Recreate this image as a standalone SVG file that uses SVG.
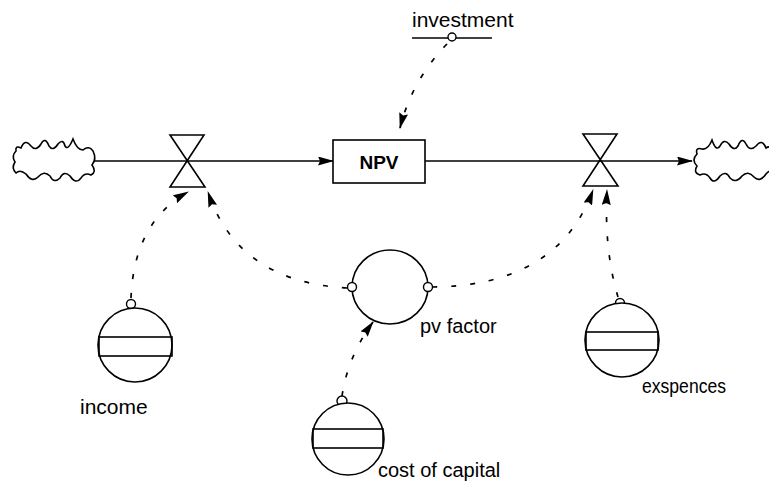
<svg xmlns="http://www.w3.org/2000/svg" width="769" height="488" viewBox="0 0 769 488">
<defs>
<marker id="ah" viewBox="0 0 16 9" refX="15" refY="4.5" markerWidth="16" markerHeight="9" markerUnits="userSpaceOnUse" orient="auto">
<path d="M0,0 L16,4.5 L0,9 L2,4.5 Z" fill="#000"/>
</marker>
<style>
.ln{fill:none;stroke:#000;stroke-width:1.6}
.dash{fill:none;stroke:#000;stroke-width:1.7;stroke-dasharray:5 14}
.shape{fill:#fff;stroke:#000;stroke-width:1.6}
.port{fill:#fff;stroke:#000;stroke-width:1.4}
.lbl{font-family:"Liberation Sans",Arial,sans-serif;font-size:20px;fill:#000}
</style>
</defs>
<rect width="769" height="488" fill="#fff"/>
<g id="connectors">
<line class="ln" x1="94" y1="161" x2="333" y2="161" marker-end="url(#ah)"/>
<line class="ln" x1="425" y1="161" x2="600" y2="161"/>
<line class="ln" x1="600" y1="161" x2="692" y2="161" marker-end="url(#ah)"/>
<path class="dash" d="M447,44 Q412,80 400,128" marker-end="url(#ah)"/>
<path class="dash" d="M131,298 Q134,222 188,192" marker-end="url(#ah)"/>
<path class="dash" d="M347,288 Q238,282 208,192" marker-end="url(#ah)"/>
<path class="dash" d="M432,287 Q558,286 593,190" marker-end="url(#ah)"/>
<path class="dash" d="M618,297 Q604,250 607,190" marker-end="url(#ah)"/>
<path class="dash" d="M342,396 Q348,356 373,322" marker-end="url(#ah)"/>
</g>
<g id="source-cloud">
<path class="ln" d="M16,151 Q15,145 21,148 Q25,138 31,146 Q36,152 41,144 Q45,136 49,146 Q53,152 58,144 Q63,138 65,146 Q68,151 73,139 Q77,150 83,150 Q89,145 93,151 Q97,159 92,165 Q97,172 91,175 Q85,172 81,178 Q76,185 70,176 Q64,170 60,178 Q54,184 50,176 Q44,170 38,177 Q32,183 26,174 Q20,169 16,173 Q11,168 15,162 Q11,156 16,151 Z"/>
</g>
<g id="sink-cloud">
<path class="ln" d="M775,150 Q770,145 766,148 Q762,138 756,146 Q750,152 746,144 Q742,136 738,146 Q734,152 729,144 Q724,138 720,146 Q716,152 712,140 Q708,150 702,149 Q695,147 697,154 Q691,160 697,166 Q693,173 700,175 Q706,172 710,178 Q714,185 720,176 Q726,170 730,178 Q736,184 742,176 Q748,170 754,177 Q760,183 766,174 Q770,169 775,172"/>
</g>
<g id="valve-in">
<path class="ln" d="M170,135 L204,135 L170,187 L205,187 Z"/>
</g>
<g id="valve-out">
<path class="ln" d="M583,134 L617,134 L583,186 L618,186 Z"/>
</g>
<g id="npv">
<rect class="shape" x="333" y="140" width="92" height="43"/>
<text class="lbl" x="379" y="169" text-anchor="middle" style="font-size:19px;font-weight:bold">NPV</text>
</g>
<g id="investment">
<line class="ln" x1="412" y1="38" x2="492" y2="38"/>
<circle class="port" cx="452" cy="37" r="4"/>
<text class="lbl" x="412" y="27" style="font-size:21px">investment</text>
</g>
<g id="pv-factor">
<ellipse class="shape" cx="390" cy="287" rx="38" ry="37"/>
<circle class="port" cx="352" cy="287" r="4.5"/>
<circle class="port" cx="428" cy="287" r="4.5"/>
<text class="lbl" x="420" y="333">pv factor</text>
</g>
<g id="income">
<circle class="port" cx="131" cy="304" r="4.5"/>
<circle class="shape" cx="135" cy="345" r="37"/>
<rect class="ln" x="99" y="337" width="73" height="19"/>
<text class="lbl" x="80" y="414" style="font-size:21px">income</text>
</g>
<g id="cost-of-capital">
<circle class="port" cx="342" cy="401" r="5"/>
<circle class="shape" cx="348" cy="439" r="36"/>
<rect class="ln" x="313" y="429" width="70" height="19"/>
<text class="lbl" x="378" y="477">cost of capital</text>
</g>
<g id="exspences">
<circle class="port" cx="620" cy="303" r="4.5"/>
<circle class="shape" cx="622" cy="340" r="37"/>
<rect class="ln" x="586" y="332" width="72" height="18"/>
<text class="lbl" x="642" y="393" textLength="84" lengthAdjust="spacingAndGlyphs">exspences</text>
</g>
</svg>
